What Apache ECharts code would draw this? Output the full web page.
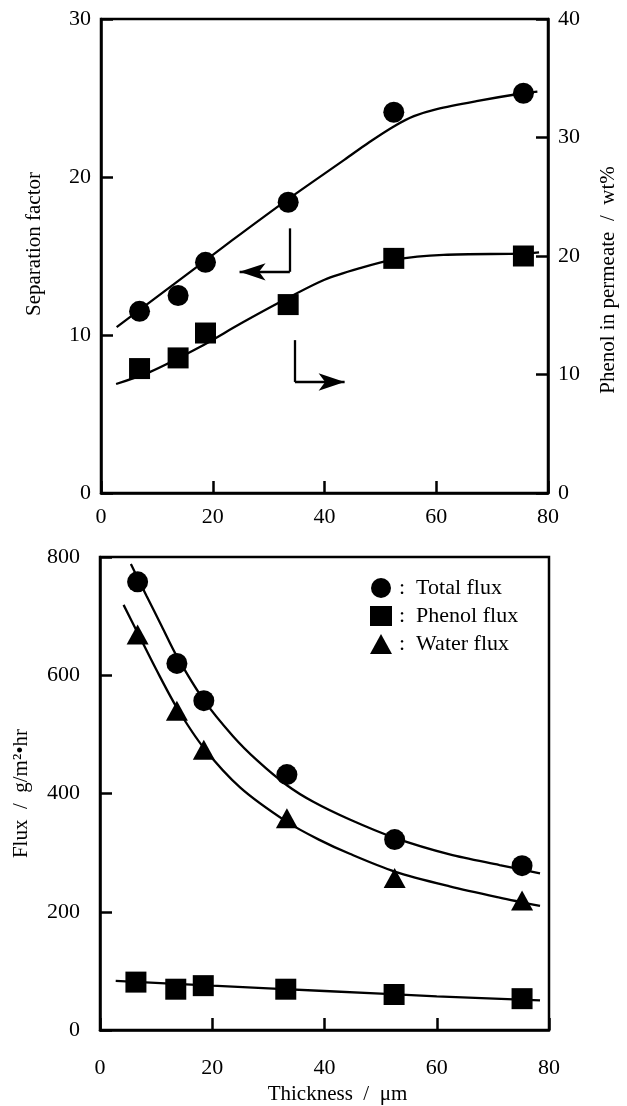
<!DOCTYPE html>
<html>
<head>
<meta charset="utf-8">
<script src="https://cdn.jsdelivr.net/npm/echarts@6/dist/echarts.min.js"></script>
<style>
  html, body { margin: 0; padding: 0; background: #fff; }
  #chart { width: 627px; height: 1106px; }
</style>
</head>
<body>
<div id="chart"></div>
<script>
// top panel: thickness vs separation factor / phenol wt%
var thickTop = [6.9, 13.8, 18.7, 33.5, 52.4, 75.6];
var sepFactor = [11.5, 12.5, 14.6, 18.4, 24.1, 25.3];
var phenolWt = [10.5, 11.4, 13.5, 15.9, 19.8, 20.0];
// fitted curves
var sepCurve = [[2.8, 10.5], [13, 13.2], [23.5, 16.0], [33.5, 18.6], [43.6, 21.1], [48, 22.2], [52.4, 23.2],
  [56, 23.85], [60.1, 24.3], [67.2, 24.8], [75.5, 25.3], [78.1, 25.4]];
var phenolCurve = [[2.7, 9.2], [8.7, 10.2], [17.6, 12.3], [25, 14.3], [32.4, 16.2], [40, 18.0],
  [46.5, 19.0], [52.4, 19.7], [61.3, 20.1], [75.5, 20.2], [78.4, 20.3]];
// axis arrows (left one on left axis, right one on right axis)
var arrowLeft = [[33.8, 16.75], [33.8, 14.0], [24.8, 14.0]];
var arrowRight = [[34.7, 12.9], [34.7, 9.37], [43.6, 9.37]];

// bottom panel: flux
var thickBot = [6.7, 13.7, 18.5, 33.3, 52.5, 75.2];
var thickPhenol = [6.4, 13.5, 18.4, 33.1, 52.4, 75.2];
var totalFlux = [758, 620, 557, 432, 322, 278];
var waterFlux = [669, 540, 474, 358, 257, 219];
var phenolFlux = [81, 69, 75, 69, 60, 53];
var totalCurve = [[5.5, 788], [8.3, 734], [11, 683], [13.7, 632], [18.5, 558], [23.7, 497], [28, 456],
  [33.3, 414], [38, 386], [44.5, 356], [52.5, 325], [62.3, 297], [71.2, 279], [78.4, 265]];
var waterCurve = [[4.2, 719], [6.7, 672], [10, 610], [13.7, 545], [18.5, 477], [25, 410], [33.3, 352],
  [39, 322], [44.5, 298], [52.5, 268], [62.3, 243], [71.2, 224], [78.4, 210]];
var phenolFluxCurve = [[2.8, 83], [20, 75], [40, 66], [60, 57], [78.4, 50]];

var FONT = 'Liberation Serif';
var INK = '#000';

function pairs(xs, ys) {
    return xs.map(function (x, i) { return [x, ys[i]]; });
}

function arrowLines(pts) {
    return [
        [{ coord: pts[0], symbol: 'none' }, { coord: pts[1], symbol: 'none' }],
        [{ coord: pts[1], symbol: 'none' }, { coord: pts[2], symbol: 'arrow', symbolSize: [13, 26] }]
    ];
}

function curve(xi, yi, data) {
    return {
        type: 'line', xAxisIndex: xi, yAxisIndex: yi, data: data, smooth: 0.3,
        showSymbol: false, lineStyle: { color: INK, width: 2.3 }
    };
}

function dots(name, xi, yi, data, sym, size) {
    return {
        name: name, type: 'scatter', xAxisIndex: xi, yAxisIndex: yi, data: data,
        symbol: sym, symbolSize: size, itemStyle: { color: INK, opacity: 1 }
    };
}

function xAx(grid, margin, name) {
    return {
        type: 'value', gridIndex: grid, min: 0, max: 80, interval: 20,
        name: name || '', nameLocation: 'middle', nameGap: 54,
        nameTextStyle: { fontFamily: FONT, fontSize: 21, color: INK, padding: [0, 0, 0, 26] },
        axisLine: { lineStyle: { color: INK, width: 2.5 } },
        axisTick: { inside: true, length: 12, lineStyle: { color: INK, width: 2.5 } },
        axisLabel: { margin: margin, fontFamily: FONT, fontSize: 22, color: INK },
        splitLine: { show: false }
    };
}

function yAx(grid, max, interval, name, gap, margin, pos, pad) {
    return {
        type: 'value', gridIndex: grid, min: 0, max: max, interval: interval, position: pos,
        name: name, nameLocation: 'middle', nameGap: gap,
        nameTextStyle: { fontFamily: FONT, fontSize: 21, color: INK, padding: pad },
        axisLine: { show: true, lineStyle: { color: INK, width: 2.5 } },
        axisTick: { inside: true, length: 12, lineStyle: { color: INK, width: 2.5 } },
        axisLabel: { margin: margin, fontFamily: FONT, fontSize: 22, color: INK },
        splitLine: { show: false }
    };
}

var chart = echarts.init(document.getElementById('chart'));

var topCurve = curve(0, 0, sepCurve);
topCurve.markLine = {
    silent: true, label: { show: false }, symbol: 'none',
    lineStyle: { color: INK, width: 2.3, type: 'solid' },
    data: arrowLines(arrowLeft)
};
var topCurve2 = curve(0, 1, phenolCurve);
topCurve2.markLine = {
    silent: true, label: { show: false }, symbol: 'none',
    lineStyle: { color: INK, width: 2.3, type: 'solid' },
    data: arrowLines(arrowRight)
};

var option = {
    animation: false,
    backgroundColor: '#fff',
    grid: [
        { left: 101, right: 75, top: 19, bottom: 613, show: true, borderColor: INK, borderWidth: 2.5 },
        { left: 100, right: 78, top: 557, bottom: 73, show: true, borderColor: INK, borderWidth: 2.5 }
    ],
    xAxis: [xAx(0, 13), xAx(1, 27, 'Thickness  /  μm')],
    yAxis: [
        yAx(0, 30, 10, 'Separation factor', 56, 10, 'left', [0, 0, 0, 24]),
        yAx(0, 40, 10, 'Phenol in permeate  /  wt%', 50, 10, 'right', [0, 48, 0, 0]),
        yAx(1, 800, 200, 'Flux  /  g/m²•hr', 68, 20, 'left', [0, 0, 0, 0])
    ],
    legend: {
        orient: 'vertical', left: 365, top: 572,
        itemWidth: 22, itemHeight: 20, itemGap: 6,
        textStyle: { fontFamily: FONT, fontSize: 22, color: INK, padding: [0, 0, 0, 2] },
        formatter: function (n) { return ':  ' + n; },
        data: [
            { name: 'Total flux', icon: 'circle' },
            { name: 'Phenol flux', icon: 'rect' },
            { name: 'Water flux', icon: 'triangle' }
        ]
    },
    series: [
        topCurve,
        topCurve2,
        dots('Separation factor', 0, 0, pairs(thickTop, sepFactor), 'circle', 21),
        dots('Phenol in permeate', 0, 1, pairs(thickTop, phenolWt), 'rect', 21),
        curve(1, 2, totalCurve),
        curve(1, 2, waterCurve),
        curve(1, 2, phenolFluxCurve),
        dots('Total flux', 1, 2, pairs(thickBot, totalFlux), 'circle', 21),
        dots('Phenol flux', 1, 2, pairs(thickPhenol, phenolFlux), 'rect', 21),
        dots('Water flux', 1, 2, pairs(thickBot, waterFlux), 'triangle', [22, 20])
    ]
};

chart.setOption(option);
</script>
</body>
</html>
